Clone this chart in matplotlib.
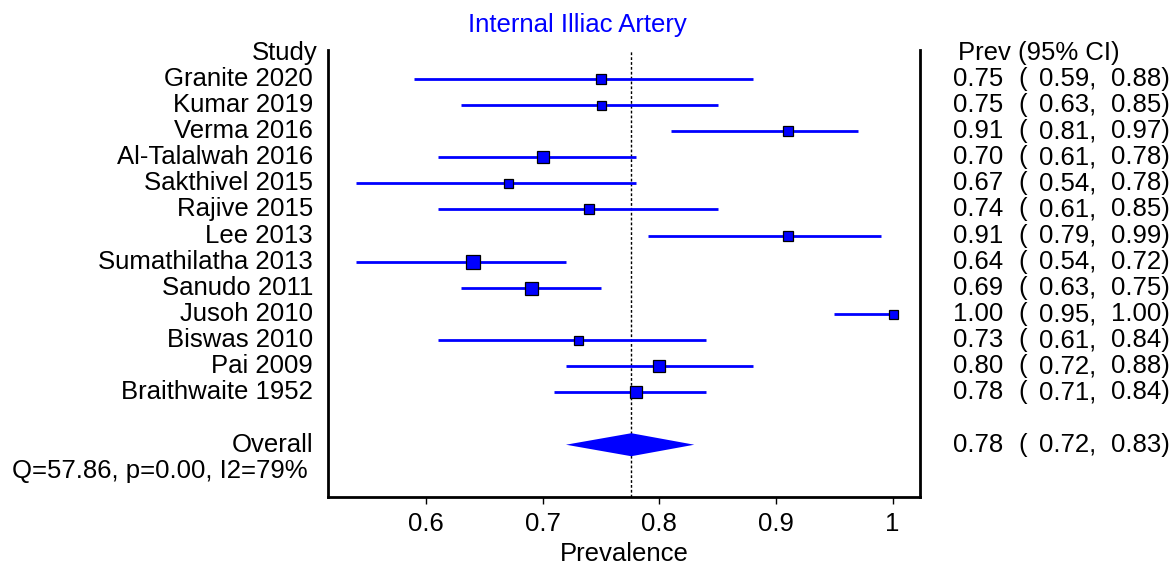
import numpy as np
import matplotlib.pyplot as plt
from matplotlib.transforms import blended_transform_factory

plt.rcParams['font.family'] = ['Liberation Sans', 'DejaVu Sans']

studies = ["Granite 2020", "Kumar 2019", "Verma 2016", "Al-Talalwah 2016",
           "Sakthivel 2015", "Rajive 2015", "Lee 2013", "Sumathilatha 2013",
           "Sanudo 2011", "Jusoh 2010", "Biswas 2010", "Pai 2009",
           "Braithwaite 1952"]
prev = [0.75, 0.75, 0.91, 0.70, 0.67, 0.74, 0.91, 0.64, 0.69, 1.00, 0.73, 0.80, 0.78]
lo = [0.59, 0.63, 0.81, 0.61, 0.54, 0.61, 0.79, 0.54, 0.63, 0.95, 0.61, 0.72, 0.71]
hi = [0.88, 0.85, 0.97, 0.78, 0.78, 0.85, 0.99, 0.72, 0.75, 1.00, 0.84, 0.88, 0.84]
# relative study weight -> square size
weight = [10, 9, 10, 12, 9, 10, 10, 14, 13, 9, 9, 12, 12]

pooled = 0.776
pooled_lo = 0.72
pooled_hi = 0.83
stats_text = "Q=57.86, p=0.00, I2=79%"

fig = plt.figure(figsize=(11.74, 5.65), dpi=100)
ax = fig.add_axes([328/1174, 1-497/565, 592/1174, 447/565])

blue = "#0000ff"
y = np.arange(len(studies))
y_over = 14

for i in range(len(studies)):
    ax.plot([lo[i], hi[i]], [y[i], y[i]], color=blue, lw=2.0, solid_capstyle='butt', zorder=2)
    ax.plot(prev[i], y[i], marker='s', ms=weight[i]*0.72, color=blue,
            mec='black', mew=0.9, zorder=3)

# overall diamond
h = 0.44
ax.fill([pooled_lo, pooled, pooled_hi, pooled], [y_over, y_over-h, y_over, y_over+h],
        color=blue, lw=0, zorder=3)

ax.axvline(pooled, color='black', ls=(0, (2, 1.5)), lw=1, zorder=1)

ax.set_xlim(0.516, 1.0235)
ax.set_ylim(16.0, -1.1)
ax.set_xticks([0.6, 0.7, 0.8, 0.9, 1.0])
ax.set_xticklabels(["0.6", "0.7", "0.8", "0.9", "1"], fontsize=18.5)
ax.set_yticks([])
ax.tick_params(axis='x', direction='out', length=5, width=1, pad=6)
ax.spines['top'].set_visible(False)
for s in ['left', 'right', 'bottom']:
    ax.spines[s].set_linewidth(2)
ax.set_xlabel("Prevalence", fontsize=18.5, labelpad=4)

ax.set_title("Internal Illiac Artery", color=blue, fontsize=18.5, pad=13, x=(577-328)/592)

tr = blended_transform_factory(fig.transFigure, ax.transData)
fs = 18.5
ax.text(318/1174, -1, "Study", transform=tr, ha='right', va='center', fontsize=fs, clip_on=False)
for i in range(len(studies)):
    ax.text(313/1174, y[i], studies[i], transform=tr, ha='right', va='center', fontsize=fs, clip_on=False)
ax.text(313/1174, y_over, "Overall", transform=tr, ha='right', va='center', fontsize=fs, clip_on=False)
ax.text(12/1174, y_over+1, stats_text, transform=tr, ha='left', va='center', fontsize=fs, clip_on=False)

ax.text(958/1174, -1, "Prev (95% CI)", transform=tr, ha='left', va='center', fontsize=fs, clip_on=False)
rows = list(zip(prev, lo, hi, y)) + [(round(pooled, 2), pooled_lo, pooled_hi, y_over)]
for p, l, u, yy in rows:
    ax.text(953/1174, yy, f"{p:.2f}", transform=tr, ha='left', va='center', fontsize=fs, clip_on=False)
    ax.text(1018/1174, yy, "(", transform=tr, ha='left', va='center', fontsize=fs, clip_on=False)
    ax.text(1039/1174, yy, f"{l:.2f},", transform=tr, ha='left', va='center', fontsize=fs, clip_on=False)
    ax.text(1111/1174, yy, f"{u:.2f})", transform=tr, ha='left', va='center', fontsize=fs, clip_on=False)

fig.savefig("out.png", dpi=100)
